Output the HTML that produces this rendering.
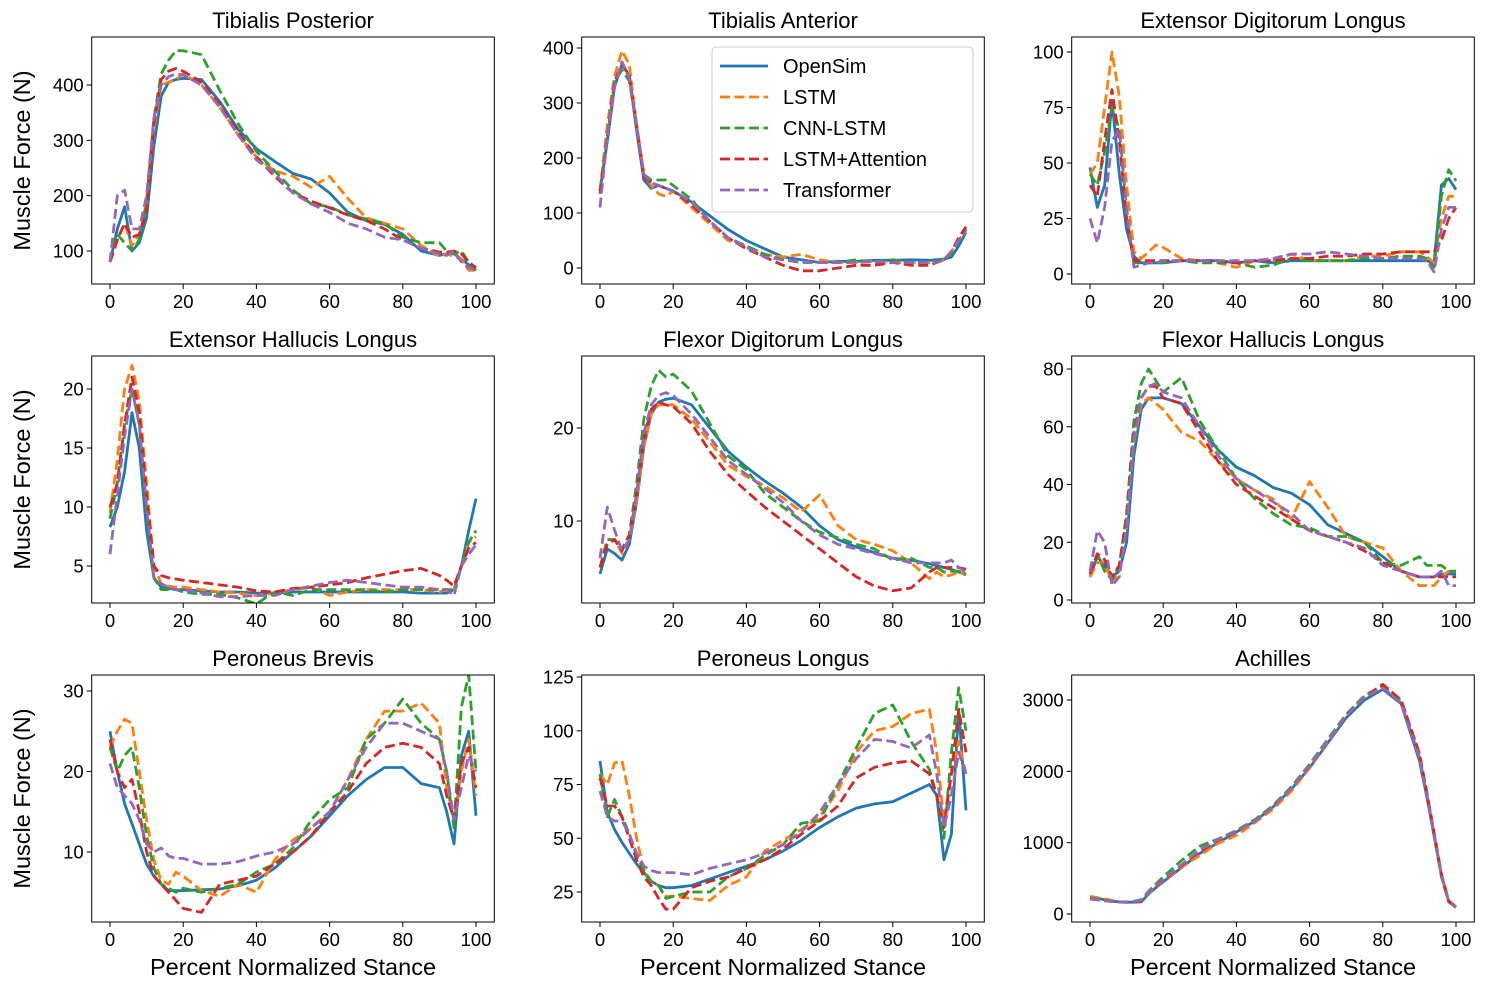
<!DOCTYPE html>
<html><head><meta charset="utf-8"><style>
body{margin:0;background:#fff;}
svg text{font-family:"Liberation Sans","DejaVu Sans",sans-serif;fill:#000;}
</style></head><body>
<svg id="fig" width="1487" height="990" viewBox="0 0 1487 990" xmlns="http://www.w3.org/2000/svg"></svg>
<script>
const X=[0,2,4,6,8,10,12,14,16,18,20,25,30,35,40,45,50,55,60,65,70,75,80,85,90,92,94,96,98,100];
const xTicks=[0,20,40,60,80,100];
const seriesNames=["OpenSim","LSTM","CNN-LSTM","LSTM+Attention","Transformer"];
const colors=["#1f77b4","#ff7f0e","#2ca02c","#d62728","#9467bd"];
const titles=["Tibialis Posterior","Tibialis Anterior","Extensor Digitorum Longus","Extensor Hallucis Longus","Flexor Digitorum Longus","Flexor Hallucis Longus","Peroneus Brevis","Peroneus Longus","Achilles"];
const yTicks=[[100,200,300,400],[0,100,200,300,400],[0,25,50,75,100],[5,10,15,20],[10,20],[0,20,40,60,80],[10,20,30],[25,50,75,100,125],[0,1000,2000,3000]];
const tibPost=[
[80,140,180,100,115,160,290,380,405,410,412,410,370,320,285,262,240,230,205,170,155,148,130,100,92,95,95,85,75,70],
[80,120,150,110,130,180,320,400,405,410,420,400,360,310,270,245,235,215,235,195,160,150,140,110,90,95,90,85,65,65],
[80,130,115,100,120,190,340,420,445,462,462,455,390,330,280,245,210,185,180,165,158,150,125,115,115,100,95,100,80,65],
[80,120,150,125,130,170,330,410,425,430,425,405,365,315,270,235,205,190,178,165,155,140,120,105,98,98,100,95,80,70],
[80,200,210,140,140,200,340,400,415,420,418,400,360,310,265,240,205,185,170,150,140,125,120,105,95,92,100,80,70,65]];
const tibAnt=[
[140,230,330,370,350,250,160,145,150,145,140,120,95,70,50,35,20,15,10,12,12,14,14,15,14,15,16,20,40,65],
[140,260,350,395,370,260,170,150,135,130,140,110,80,50,40,25,20,25,15,10,10,12,10,10,10,10,15,30,50,70],
[140,240,340,360,340,260,170,160,160,160,150,125,85,55,40,25,15,10,10,10,15,10,15,10,10,12,15,25,50,70],
[135,240,340,370,350,260,165,155,150,145,140,115,85,55,35,20,5,-5,-5,0,5,5,10,5,5,10,15,30,55,75],
[110,240,330,375,345,260,170,155,150,145,140,120,85,55,38,20,15,12,10,10,10,12,10,10,10,10,15,30,50,65]];
const edl=[
[48,30,40,78,45,20,8,5,5,5,5,6,6,6,5,6,5,6,6,6,6,6,6,6,6,6,5,40,43,38],
[45,50,75,100,80,40,10,7,10,13,12,7,6,5,3,6,6,9,6,6,6,8,8,10,10,8,5,25,35,35],
[45,40,55,75,65,25,5,5,6,5,5,6,5,5,5,3,4,7,6,6,6,7,7,8,8,7,3,35,47,42],
[40,35,60,83,60,25,6,6,6,6,6,6,6,6,5,6,6,7,7,8,8,9,9,10,10,10,10,15,25,30],
[25,14,30,60,65,30,3,4,5,5,6,6,6,6,6,6,7,9,9,10,9,8,7,7,7,6,1,20,30,30]];
const ehl=[
[8.3,10,13,18,15,8,4,3.2,3.1,3,3,2.9,2.8,2.8,2.7,2.7,2.8,2.8,2.8,2.8,2.8,2.8,2.8,2.7,2.7,2.7,3,5,8,10.7],
[9.5,14,20,22,19,12,5,3.5,3.3,3.2,3.2,3,2.8,2.7,2.5,2.7,3,3.2,2.5,2.8,3,3,3,3,2.8,3,3,5,7,7.5],
[9,12,17,20,17,10,4,3,3,3,2.8,2.6,2.6,2.3,1.8,2.8,2.5,3,3,3,3,2.8,3,3,3,3,3,5,7,8],
[10,12,17,21,18,11,5,4.2,4,3.9,3.8,3.6,3.4,3.2,2.9,2.8,3.1,3.2,3.4,3.6,4,4.3,4.6,4.8,4.2,3.8,3.3,5,6.5,7],
[6,11,16,20,17,10,4,3.5,3.2,3,3,2.7,2.4,2.4,2.5,2.5,3,3.3,3.6,3.8,3.6,3.4,3.2,3.2,3,3,2.5,5,6,6.8]];
const fdl=[
[4.3,7,6.5,5.8,7.5,12,18,21.5,22.8,23.1,23.2,22.5,20,17.5,15.8,14.3,13,11.5,9.5,8,7.2,6.6,6,5.8,5.4,5.2,5,4.8,4.5,4.3],
[5,8,8,6.5,8,12,18,21.5,22.5,22.5,22.5,21,18.5,16,14.8,13.8,12.5,11,12.8,9.5,8,7.5,6.8,5.5,3.8,4.5,4,4.2,4.5,4.2],
[5,8,8,7,8.5,14,21,24.5,26.2,25.5,25.8,24,20.5,17,15.5,13,11.5,10,8.8,8.2,7.5,7,5.8,6,5,5,4.5,4.6,4.6,4.2],
[5,7.5,8,6.8,8.5,13,19,22,22.8,22.5,22.3,20.5,17.5,15,13.2,11.5,10,8.5,7,5.5,4,3,2.5,2.8,4.5,5,5,5,5,4.8],
[6,11.5,9,6.8,8,13,19.5,22.5,23.5,23.8,23.5,21.5,19,16.5,15,13.5,12,10,8.5,7.5,7,6.5,6,5.5,5.5,5.5,5.5,5.8,5,4.5]];
const fhl=[
[8,15,12,8,10,20,50,66,70,70,70,68,60,52,46,43,39,37,33,26,23,20,15,10,8,8,8,9,9,9],
[8,13,13,6,10,25,55,68,70,68,66,58,55,48,42,38,35,28,41,32,22,20,18,10,5,5,5,8,10,10],
[10,16,10,7,12,30,62,75,80,76,72,77,62,52,42,35,30,26,25,22,22,20,13,12,15,12,12,12,10,10],
[9,16,14,8,12,28,58,70,74,74,70,68,58,48,40,36,32,28,24,22,20,17,13,10,8,8,8,8,8,8],
[10,24,20,5,8,25,56,70,74,75,72,70,60,50,42,38,34,30,24,22,20,18,12,10,8,8,8,10,5,5]];
const pb=[
[25,20,16,13.5,11,8.5,7,6,5.2,5.2,5.2,5.3,5.4,5.8,6.5,8,10,12,14.5,17,19,20.5,20.5,18.5,18,15,11,22,25,14.5],
[23,25,26.5,26,20,14,9,6.5,6,7.5,7,5.2,4.5,6,5,9,11.5,13,15,19,24,27.5,27.5,28.5,26,18,14,20,24,17],
[23,20,22,23,18,12,8,6,5.5,5,5.5,5,5.5,6,7.5,8.5,10.5,14,16.5,18,24,26,29,26,24,20,13,28,32,20],
[24,20,18,19,15,10,7,6,5,4,3,2.5,6,6.5,7,8.5,10,12,15,17.5,21,23,23.5,23,21,17,14,21,23,18],
[21,18,17,16,14,11,10,10.5,9.5,9.2,9.2,8.5,8.5,8.8,9.5,10,11,13,15,19,23,26,26,25,24,20,14,18,22,20]];
const pl=[
[86,62,54,48,43,38,34,30,28,27,27,28,31,34,37,40,44,49,55,60,64,66,67,71,75,70,40,52,110,63],
[80,75,85,86,70,50,35,30,28,23,23,22,21,28,32,44,49,54,60,72,90,100,102,108,110,90,58,80,95,80],
[80,60,68,60,52,42,35,30,28,22,23,25,25,32,36,42,47,57,58,75,92,108,112,95,82,70,50,90,120,100],
[78,65,65,60,50,40,32,28,22,17,17,27,30,32,36,40,45,52,58,65,78,83,85,86,80,70,55,80,110,90],
[72,60,58,58,52,43,37,35,34,34,34,33,36,38,40,43,47,53,62,75,87,96,95,92,98,80,55,70,90,80]];
const ach=[
[230,220,200,180,170,165,165,170,280,370,450,650,850,1000,1150,1300,1500,1750,2050,2400,2750,3000,3150,2950,2150,1650,1100,550,180,100],
[250,230,210,190,170,165,170,180,290,380,460,660,820,990,1100,1280,1470,1720,2050,2420,2780,3050,3180,2980,2200,1700,1150,560,190,100],
[230,210,195,180,170,165,180,200,320,420,520,750,950,1050,1170,1320,1520,1780,2100,2450,2800,3060,3200,3000,2250,1700,1100,520,170,90],
[210,200,185,175,170,165,170,180,300,390,470,680,880,1030,1160,1300,1500,1760,2070,2430,2780,3040,3220,3000,2250,1720,1150,560,180,95],
[220,200,190,175,165,165,175,190,300,400,480,690,900,1040,1160,1300,1500,1760,2080,2430,2780,3040,3170,2960,2200,1680,1120,540,170,90]];
const allData=[tibPost,tibAnt,edl,ehl,fdl,fhl,pb,pl,ach];

// layout (not data)
const colX0=[110,600,1090], rowBox=[[37,284],[356,603],[675,922]];
const yCal=[[100,251,400,85],[0,268,400,48],[0,274,100,52],[5,566,20,389],[10,521,20,428],[0,600,80,369],[10,852,30,691],[25,892,125,677],[0,914,3000,700]];
const NS="http://www.w3.org/2000/svg";
const svg=document.getElementById('fig');
function mk(tag,attrs,parent){const e=document.createElementNS(NS,tag);for(const k in attrs)e.setAttribute(k,attrs[k]);(parent||svg).appendChild(e);return e;}

for(let p=0;p<9;p++){
  const c=p%3,r=Math.floor(p/3);
  const x0=colX0[c], pxPer=3.66;
  const xs=v=>x0+v*pxPer;
  const [va,pa,vb,pb2]=yCal[p];
  const ys=v=>pa+(v-va)*(pb2-pa)/(vb-va);
  const L=x0-18.3, R=x0+366+18.3, T=rowBox[r][0], B=rowBox[r][1];
  const g=mk('g',{});
  
  
  const cp='clip'+p;
  const cl=mk('clipPath',{id:cp},g); mk('rect',{x:L,y:T,width:R-L,height:B-T},cl);
  const t=mk('text',{x:(L+R)/2,y:T-9,'text-anchor':'middle','font-size':'22'},g);
  t.textContent=titles[p];
  
  
  xTicks.forEach(v=>{
    mk('line',{x1:xs(v),x2:xs(v),y1:B,y2:B+5,stroke:'#000','stroke-width':1},g);
    const tt=mk('text',{x:xs(v),y:B+24,'text-anchor':'middle','font-size':'18.5'},g);
    tt.textContent=v;
    
    
  });
  yTicks[p].forEach(v=>{
    mk('line',{x1:L-5,x2:L,y1:ys(v),y2:ys(v),stroke:'#000','stroke-width':1},g);
    const tt=mk('text',{x:L-8,y:ys(v)+6.5,'text-anchor':'end','font-size':'18.5'},g);
    tt.textContent=v;
    
    
  });
  const lines=mk('g',{'clip-path':'url(#'+cp+')'},g);
  allData[p].forEach((vals,s)=>{
    const d=vals.map((v,i)=>(i?'L':'M')+xs(X[i]).toFixed(1)+','+ys(v).toFixed(1)).join(' ');
    const pth=mk('path',{d:d,fill:'none',stroke:colors[s],'stroke-width':2.8,'stroke-linejoin':'round','stroke-dasharray':s?'10,4.5':'none'},lines);
    
    
  });
  mk('rect',{x:L,y:T,width:R-L,height:B-T,fill:'none',stroke:'#000','stroke-width':1},g);
  if(c===0){
    const yl=mk('text',{x:0,y:0,transform:'translate(30,'+((T+B)/2)+') rotate(-90)','text-anchor':'middle','font-size':'23.5'},g);
    yl.textContent='Muscle Force (N)';
    
    
  }
  if(r===2){
    const xl=mk('text',{x:(L+R)/2,y:975,'text-anchor':'middle','font-size':'23.5'},g);
    xl.textContent='Percent Normalized Stance';
    
    
  }
}
// legend
const lg=mk('g',{});


mk('rect',{x:712,y:47,width:261,height:165,rx:4,fill:'#fff','fill-opacity':0.85,stroke:'#ccc'},lg);
seriesNames.forEach((n,s)=>{
  const y=66+s*31;
  const ln=mk('line',{x1:720,x2:768,y1:y,y2:y,stroke:colors[s],'stroke-width':2.8,'stroke-dasharray':s?'10,4.5':'none'},lg);
  
  
  const tx=mk('text',{x:783,y:y+7,'font-size':'20'},lg);
  tx.textContent=n;
  
  
});
</script>
</body></html>
